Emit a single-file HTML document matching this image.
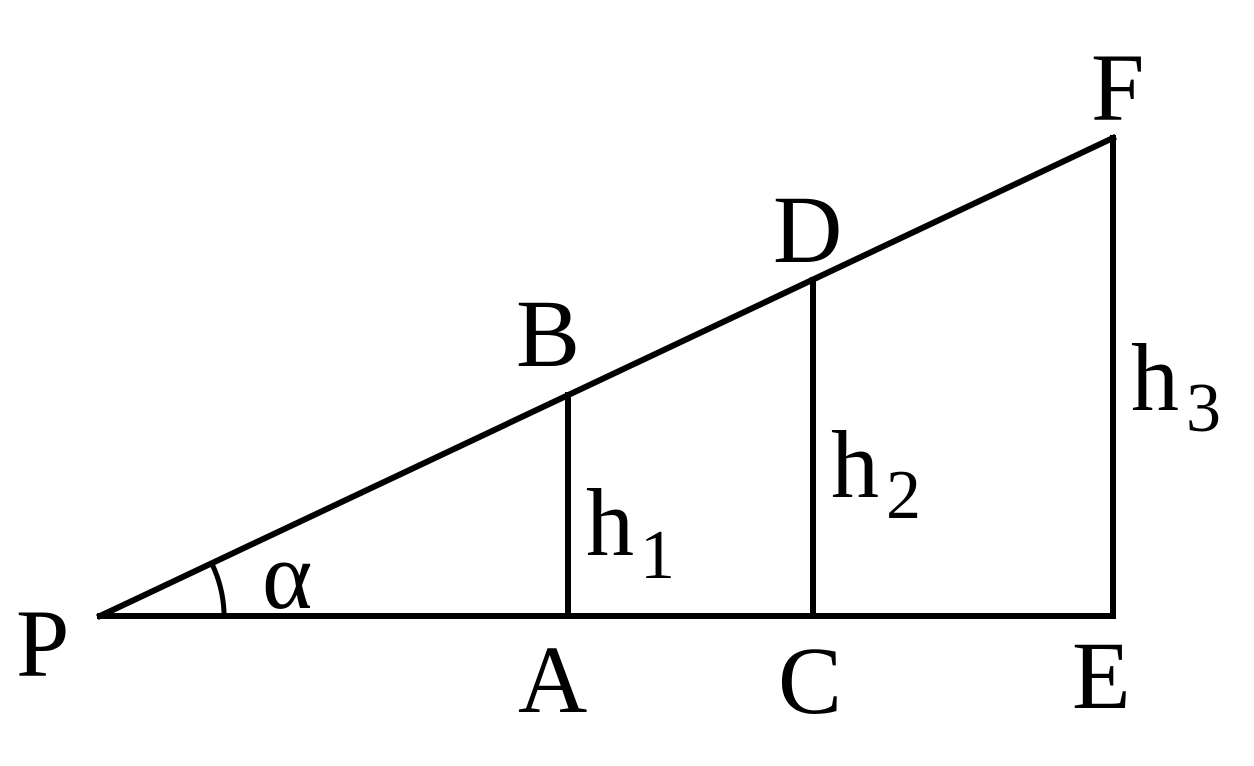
<!DOCTYPE html>
<html><head><meta charset="utf-8"><style>html,body{margin:0;padding:0;background:#fff}</style></head>
<body>
<svg width="1254" height="761" viewBox="0 0 1254 761" xmlns="http://www.w3.org/2000/svg">
<g stroke="#000" stroke-width="6" fill="none" stroke-linecap="square">
<line x1="100" y1="616" x2="1113" y2="616"/>
<line x1="100" y1="616" x2="1113" y2="138"/>
<line x1="568" y1="616" x2="568" y2="395"/>
<line x1="813" y1="616" x2="813" y2="280"/>
<line x1="1113" y1="616" x2="1113" y2="138"/>
<path d="M212 564 A124 124 0 0 1 224 612" stroke-width="5"/>
</g>
<g font-family="'Liberation Serif', 'Times New Roman', serif" font-size="96" fill="#000">
<text x="16" y="676">P</text>
<text x="518" y="712">A</text>
<text x="778" y="713">C</text>
<text x="1072" y="708">E</text>
<text x="1091" y="120">F</text>
<text x="773" y="262">D</text>
<text x="516" y="366">B</text>
<text x="262" y="608">α</text>
<text x="586" y="555">h</text><text x="640" y="578" font-size="70">1</text>
<text x="831" y="497">h</text><text x="886" y="518" font-size="70">2</text>
<text x="1131" y="410">h</text><text x="1186" y="431" font-size="70">3</text>
</g>
</svg>
</body></html>
